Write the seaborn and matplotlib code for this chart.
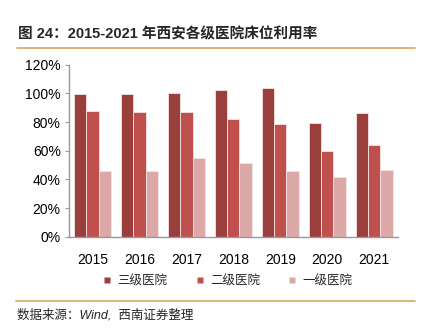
import matplotlib
matplotlib.use("Agg")
import matplotlib.pyplot as plt
import seaborn as sns
import pandas as pd
from matplotlib.lines import Line2D

years = ["2015", "2016", "2017", "2018", "2019", "2020", "2021"]
series_names = ["三级医院", "二级医院", "一级医院"]
tertiary = [99.4, 99.3, 100.4, 102.1, 103.7, 79.3, 86.1]
secondary = [87.7, 86.7, 86.7, 81.9, 78.6, 59.8, 64.2]
primary = [45.6, 45.6, 54.9, 51.4, 45.6, 41.4, 46.5]
yticks = [0, 20, 40, 60, 80, 100, 120]
title = "图 24：2015-2021 年西安各级医院床位利用率"
source = "数据来源：Wind,  西南证券整理"

colors = ["#9B3F3D", "#C0504D", "#DBA9A8"]

sns.set_theme(style="white")
plt.rcParams["font.family"] = ["Liberation Sans", "Noto Sans CJK SC", "DejaVu Sans"]

rows = []
for name, vals in zip(series_names, [tertiary, secondary, primary]):
    for y, v in zip(years, vals):
        rows.append({"year": y, "series": name, "value": v})
df = pd.DataFrame(rows)

fig = plt.figure(figsize=(4.3, 3.3), dpi=100)
ax = fig.add_axes([0.1605, 0.2827, 0.925 - 0.1605, 0.804 - 0.2827])

sns.barplot(data=df, x="year", y="value", hue="series", hue_order=series_names,
            palette=colors, width=0.78, edgecolor="#f4e4e4", linewidth=0.6,
            saturation=1, legend=False, ax=ax)

ax.set_xlim(-0.5, 6.5)
ax.set_ylim(0, 120)
ax.set_yticks(yticks)
ax.set_yticklabels([f"{t}%" for t in yticks], fontsize=10)
ax.set_xticks(range(len(years)))
ax.set_xticklabels(years, fontsize=10)
ax.set_xlabel("")
ax.set_ylabel("")
for s in ["top", "right"]:
    ax.spines[s].set_visible(False)
for s in ["left", "bottom"]:
    ax.spines[s].set_color("#999999")
    ax.spines[s].set_linewidth(1.0)
ax.tick_params(axis="y", which="major", left=True, length=3, width=0.8, color="#999999", pad=3, labelcolor="#000000")
ax.tick_params(axis="x", which="major", bottom=False, pad=6, labelcolor="#000000")

# Title and decorative lines
fig.text(0.042, 0.897, title, fontsize=10.5, fontweight="bold",
         family=["Liberation Sans", "Noto Sans CJK SC"], ha="left", va="center")
fig.add_artist(Line2D([0.04, 0.965], [0.855, 0.855], color="#D9A55B", lw=1.2, transform=fig.transFigure))
fig.add_artist(Line2D([0.038, 0.965], [0.089, 0.089], color="#D9A55B", lw=1.2, transform=fig.transFigure))

handles = [Line2D([], [], marker="s", linestyle="none", markersize=5,
                  markerfacecolor=c, markeredgecolor="none") for c in colors]
fig.legend(handles, series_names, loc="center", bbox_to_anchor=(0.53, 0.148), ncol=3,
           frameon=False, handlelength=0.6, handletextpad=0.5, columnspacing=2.3,
           prop={"family": ["Noto Sans CJK SC"], "size": 9})

fig.text(0.04, 0.045, source, fontsize=9, style="italic",
         family=["Liberation Sans", "Noto Sans CJK SC"], ha="left", va="center")

fig.savefig("out.png", dpi=100)
